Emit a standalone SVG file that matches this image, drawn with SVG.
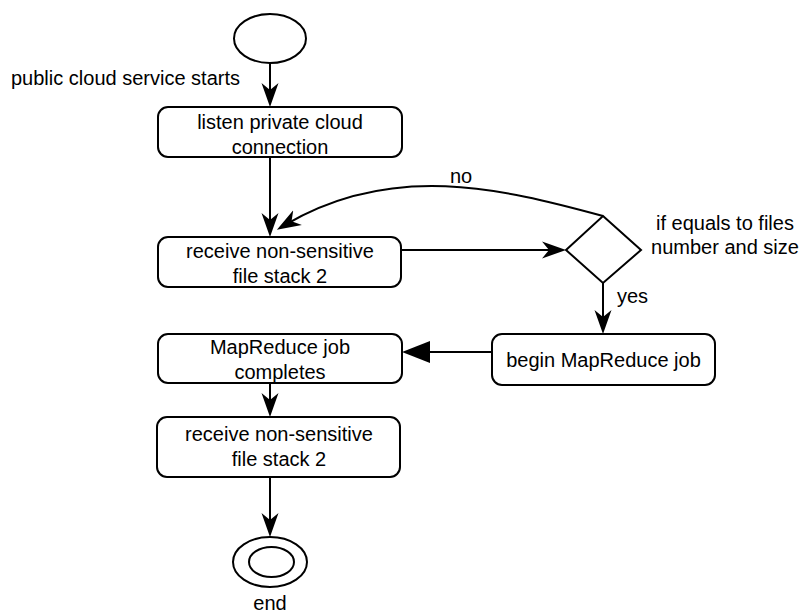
<svg xmlns="http://www.w3.org/2000/svg" width="800" height="613" viewBox="0 0 800 613">
  <style>
    .shape { fill: #ffffff; stroke: #000000; stroke-width: 2; }
    .edge { fill: none; stroke: #000000; stroke-width: 2; }
    text { font-family: "Liberation Sans", Arial, Helvetica, sans-serif; font-size: 20px; fill: #000000; }
    .c { text-anchor: middle; }
  </style>
  <defs>
    <!-- notched arrowhead; tip sits 10px past the end of the line -->
    <marker id="classic" markerUnits="userSpaceOnUse" markerWidth="30" markerHeight="24" viewBox="0 -12 30 24" refX="14" refY="0" orient="auto">
      <path d="M24,0 L0,-8.5 L7,0 L0,8.5 Z" fill="#000000"/>
    </marker>
    <!-- solid triangular arrowhead -->
    <marker id="block" markerUnits="userSpaceOnUse" markerWidth="32" markerHeight="26" viewBox="0 -13 32 26" refX="18" refY="0" orient="auto">
      <path d="M28,0 L0,-11 L0,11 Z" fill="#000000"/>
    </marker>
  </defs>

  <rect width="800" height="613" fill="#ffffff"/>

  <g id="connectors">
    <path class="edge" d="M270,63 L270,97" marker-end="url(#classic)"/>
    <path class="edge" d="M270,157 L270,227" marker-end="url(#classic)"/>
    <path class="edge" d="M401,250 L556,250" marker-end="url(#classic)"/>
    <path class="edge" d="M603,216 C500,188 392,162 285.5,224.7" marker-end="url(#classic)"/>
    <path class="edge" d="M603,283 L603,324" marker-end="url(#classic)"/>
    <path class="edge" d="M492,352 L412,352" marker-end="url(#block)"/>
    <path class="edge" d="M270,383 L270,407" marker-end="url(#classic)"/>
    <path class="edge" d="M270,477 L270,527" marker-end="url(#classic)"/>
    <text x="461" y="183" class="c">no</text>
    <text x="617" y="303">yes</text>
  </g>

  <g id="start">
    <ellipse class="shape" cx="270" cy="38.5" rx="36" ry="24.5"/>
    <text x="11" y="85">public cloud service starts</text>
  </g>

  <g id="listen">
    <rect class="shape" x="158" y="107" width="244" height="50" rx="10"/>
    <text x="280" y="129" class="c">listen private cloud</text>
    <text x="280" y="154" class="c">connection</text>
  </g>

  <g id="receive1">
    <rect class="shape" x="158" y="237" width="243" height="50" rx="10"/>
    <text x="280" y="258" class="c">receive non-sensitive</text>
    <text x="280" y="283" class="c">file stack 2</text>
  </g>

  <g id="decision">
    <path class="shape" d="M603,216 L641,250 L603,283 L566,250 Z"/>
    <text x="725" y="230" class="c">if equals to files</text>
    <text x="725" y="254" class="c">number and size</text>
  </g>

  <g id="begin">
    <rect class="shape" x="492" y="334" width="223" height="51" rx="10"/>
    <text x="603.5" y="366.5" class="c">begin MapReduce job</text>
  </g>

  <g id="completes">
    <rect class="shape" x="158" y="334" width="244" height="49" rx="10"/>
    <text x="280" y="354" class="c">MapReduce job</text>
    <text x="280" y="379" class="c">completes</text>
  </g>

  <g id="receive2">
    <rect class="shape" x="157" y="417" width="243" height="60" rx="10"/>
    <text x="279" y="441" class="c">receive non-sensitive</text>
    <text x="279" y="466" class="c">file stack 2</text>
  </g>

  <g id="end">
    <ellipse class="shape" cx="270" cy="562" rx="37" ry="25"/>
    <ellipse class="shape" cx="271.5" cy="562" rx="22.5" ry="15"/>
    <text x="270" y="610" class="c">end</text>
  </g>
</svg>
